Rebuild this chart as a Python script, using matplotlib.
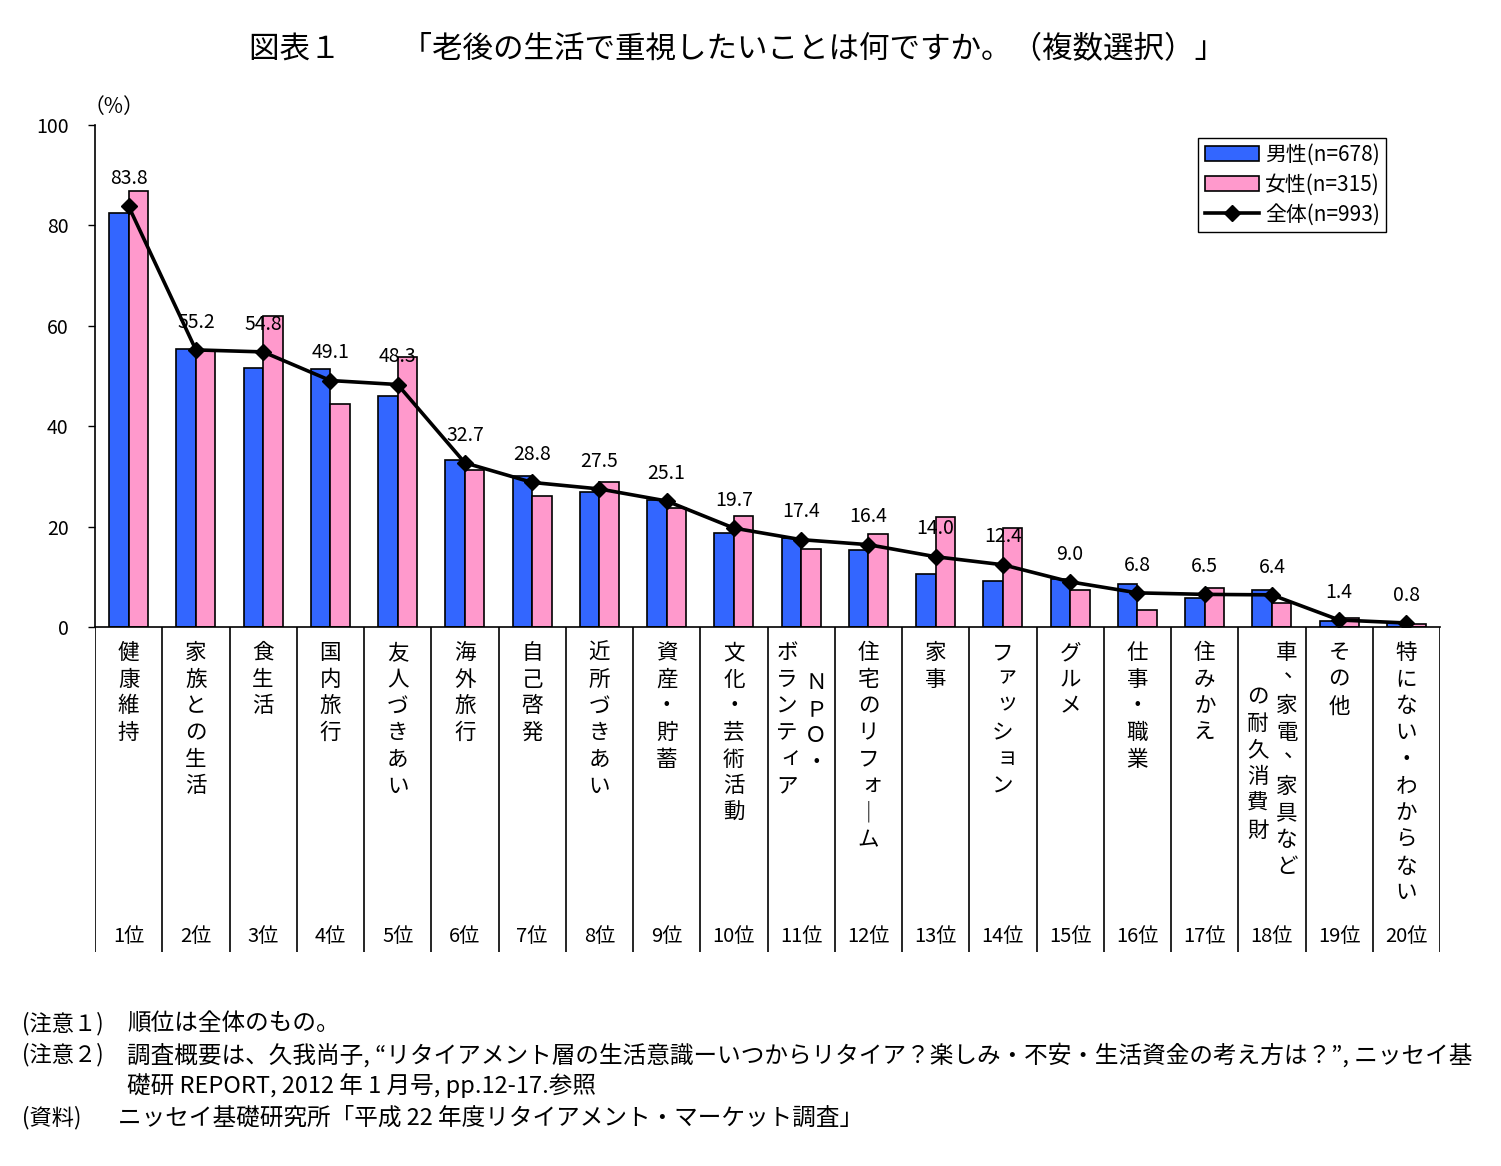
import numpy as np
import matplotlib
matplotlib.use("Agg")
import matplotlib.pyplot as plt
from matplotlib.patches import Patch
from matplotlib.lines import Line2D

plt.rcParams['font.family'] = ['Noto Sans CJK JP', 'DejaVu Sans']

# data
labels = [["健康維持"], ["家族との生活"], ["食生活"], ["国内旅行"], ["友人づきあい"],
          ["海外旅行"], ["自己啓発"], ["近所づきあい"], ["資産・貯蓄"], ["文化・芸術活動"],
          ["ボランティア", "ＮＰＯ・"], ["住宅のリフォーム"], ["家事"], ["ファッション"], ["グルメ"],
          ["仕事・職業"], ["住みかえ"], ["の耐久消費財", "車、家電、家具など"], ["その他"], ["特にない・わからない"]]
ranks = [f"{i}位" for i in range(1, 21)]
male = [82.4, 55.3, 51.5, 51.3, 46.0, 33.3, 30.1, 26.8, 25.3, 18.7,
        17.8, 15.4, 10.5, 9.1, 9.5, 8.6, 5.8, 7.3, 1.2, 0.9]
female = [86.8, 55.0, 61.9, 44.5, 53.7, 31.3, 26.0, 28.9, 23.8, 22.2,
          15.6, 18.5, 22.0, 19.7, 7.3, 3.3, 7.8, 4.8, 1.7, 0.6]
total = [83.8, 55.2, 54.8, 49.1, 48.3, 32.7, 28.8, 27.5, 25.1, 19.7,
         17.4, 16.4, 14.0, 12.4, 9.0, 6.8, 6.5, 6.4, 1.4, 0.8]
legend_labels = ["男性(n=678)", "女性(n=315)", "全体(n=993)"]

W, H = 1501, 1166
fig = plt.figure(figsize=(W / 100, H / 100), dpi=100)

x0, x1 = 95, 1440
ytop, yzero, ybot = 125, 627, 952

ax = fig.add_axes([x0 / W, 1 - yzero / H, (x1 - x0) / W, (yzero - ytop) / H])
n = len(total)
xs = np.arange(n) + 0.5
bw = 0.29
ax.bar(xs - bw / 2, male, bw, color="#3366FF", edgecolor="black", linewidth=1.2, zorder=2)
ax.bar(xs + bw / 2, female, bw, color="#FF99CC", edgecolor="black", linewidth=1.2, zorder=2)
ax.plot(xs, total, color="black", lw=2.6, marker="D", ms=8, zorder=3)
for x, v in zip(xs, total):
    ax.annotate(f"{v:.1f}", (x, v), xytext=(0, 20), textcoords="offset points",
                ha="center", va="center", fontsize=14, zorder=4)

ax.set_xlim(0, n)
ax.set_ylim(0, 100)
ax.set_yticks(range(0, 101, 20))
ax.set_xticks([])
ax.tick_params(axis="y", length=5, width=1, pad=14, labelsize=14)
for s in ["top", "right"]:
    ax.spines[s].set_visible(False)
ax.spines["left"].set_linewidth(1.2)
ax.spines["bottom"].set_linewidth(1.2)
fig.text(84 / W, 1 - 107 / H, "（%）", fontsize=15, ha="left", va="center")

handles = [Patch(facecolor="#3366FF", edgecolor="black", linewidth=1.2),
           Patch(facecolor="#FF99CC", edgecolor="black", linewidth=1.2),
           Line2D([], [], color="black", lw=2.6, marker="D", ms=8)]
leg = ax.legend(handles, legend_labels, loc="upper right", bbox_to_anchor=(0.96, 0.975),
                fontsize=15, fancybox=False, edgecolor="black", framealpha=1,
                handlelength=2.6, handletextpad=0.3, borderpad=0.3, labelspacing=0.38,
                borderaxespad=0)
leg.get_frame().set_linewidth(1.0)

# category table below the axis
tab = fig.add_axes([x0 / W, 1 - ybot / H, (x1 - x0) / W, (ybot - yzero) / H])
tab.set_xlim(0, n)
tab.set_ylim(ybot, yzero)
tab.axis("off")
tab.vlines(np.arange(n + 1), yzero, ybot, color="black", lw=1.2)

small = set("ァィゥェォッャュョ")
step = 26.7
for i, cols in enumerate(labels):
    if len(cols) == 1:
        offs = [0.0]
        starts = [653]
    else:
        offs = [-0.21, 0.22]
        starts = [697, 653] if i == 17 else [653, 683]
    for col, dx, y0 in zip(cols, offs, starts):
        for k, ch in enumerate(col):
            cx, cy = i + 0.5 + dx, y0 + k * step
            if ch == "ー":
                ch = "｜"
            if ch in small:
                cx += 0.06
                cy -= 3
            if ch == "、":
                cx += 0.12
                cy -= 8
            tab.text(cx, cy, ch, ha="center", va="center", fontsize=15.5)
    tab.text(i + 0.5, 937, ranks[i], ha="center", va="center", fontsize=14.5)

fig.text(737 / W, 1 - 50 / H, "図表１　　「老後の生活で重視したいことは何ですか。（複数選択）」",
         ha="center", va="center", fontsize=22)

notes = [("(注意１)", "順位は全体のもの。", 1024, 127),
         ("(注意２)", "調査概要は、久我尚子, “リタイアメント層の生活意識ーいつからリタイア？楽しみ・不安・生活資金の考え方は？”, ニッセイ基", 1055, 127),
         ("", "礎研 REPORT, 2012 年 1 月号, pp.12-17.参照", 1086, 127),
         ("(資料)", "ニッセイ基礎研究所「平成 22 年度リタイアメント・マーケット調査」", 1118, 118)]
for pre, body, y, bx in notes:
    if pre:
        fig.text(22 / W, 1 - y / H, pre, ha="left", va="center", fontsize=16)
    fig.text(bx / W, 1 - y / H, body, ha="left", va="center", fontsize=17)

fig.savefig("out.png", dpi=100, facecolor="white")
